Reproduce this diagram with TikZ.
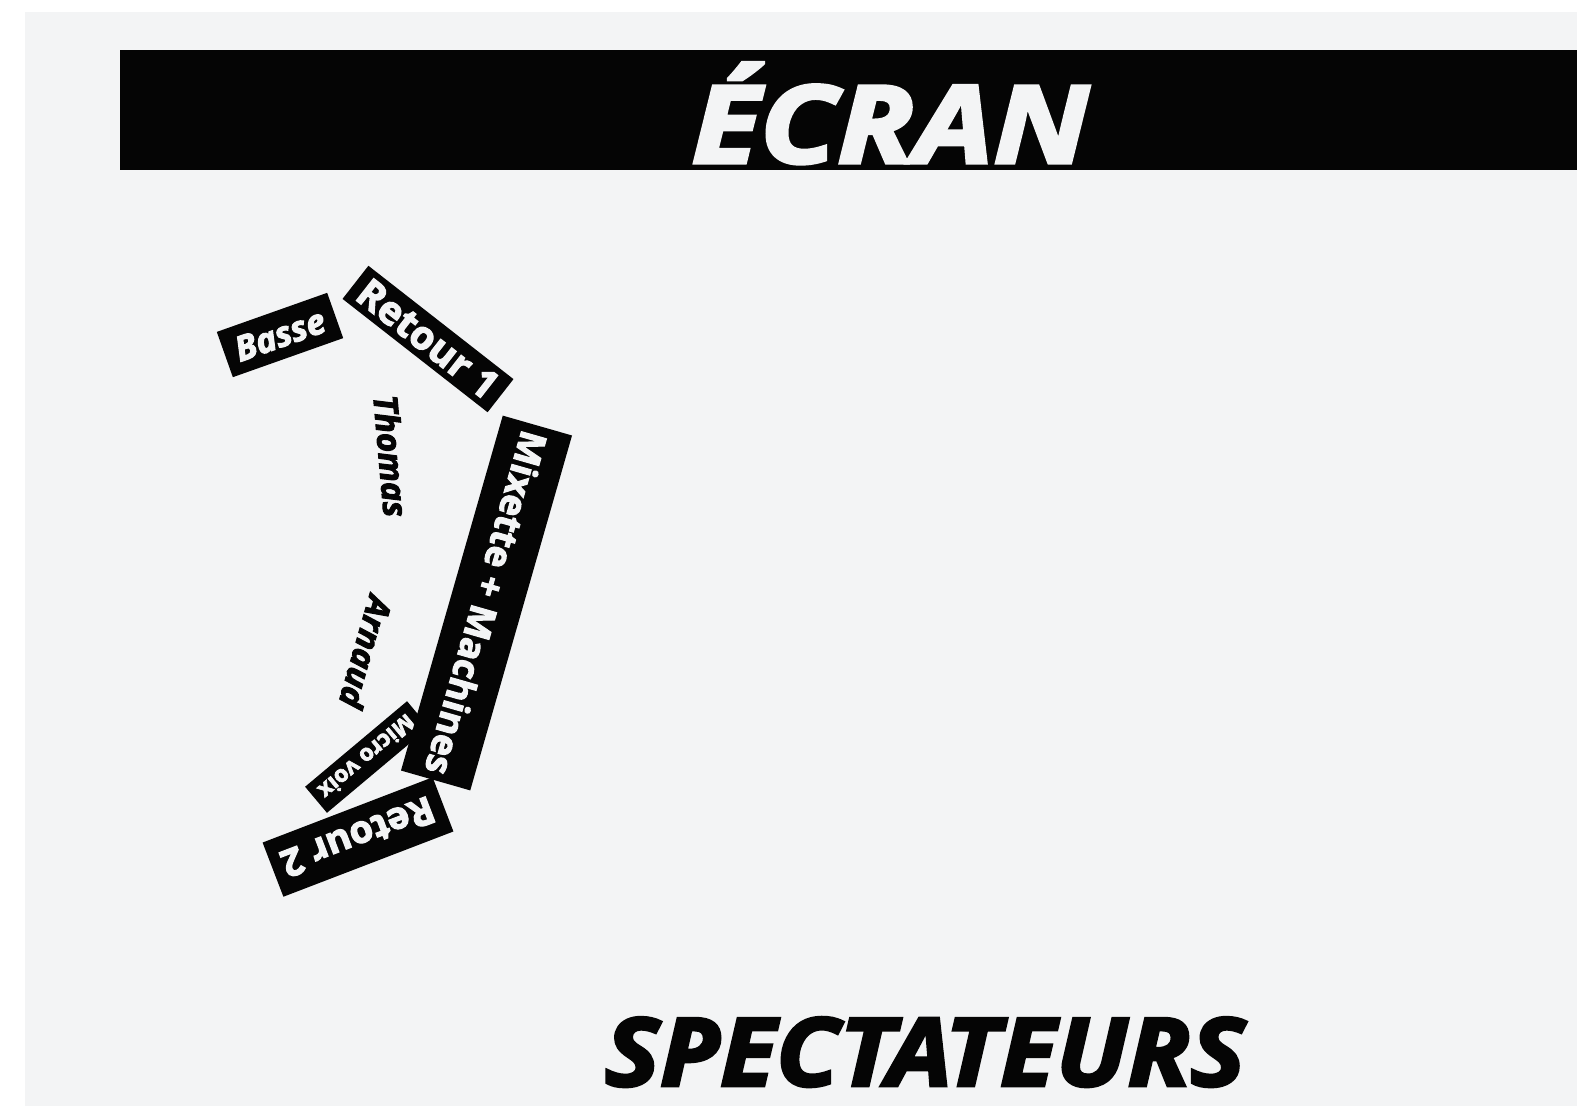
\documentclass[tikz,border=0pt]{standalone}
\usepackage{fontspec}
\setmainfont{Open Sans}[BoldFeatures={FakeBold=3},BoldItalicFeatures={FakeBold=3}]
\definecolor{bggray}{HTML}{F3F4F5}
\definecolor{ink}{HTML}{050505}
\tikzset{
  blackbox/.style={fill=ink, text=bggray, inner sep=0pt, align=center, font=\bfseries},
  plain/.style={text=ink, inner sep=0pt, font=\bfseries\itshape},
}
\begin{document}
\begin{tikzpicture}[x=0.01cm,y=-0.01cm]
\useasboundingbox (0,0) rectangle (1577,1106);
\fill[white] (0,0) rectangle (1577,1106);
\fill[bggray] (25,12) rectangle (1577,1106);
% screen bar
\fill[ink] (120,50) rectangle (1577,170);
\node[anchor=base, text=bggray, inner sep=0pt, font=\fontsize{30.7pt}{32pt}\selectfont\bfseries\itshape] (ecran) at (890,163) {\scalebox{1.17}[1]{ÉCRAN}};
\node[anchor=base, text=ink, inner sep=0pt, font=\fontsize{27pt}{29pt}\selectfont\bfseries\itshape] (spect) at (925,1086) {\scalebox{1.09}[1]{SPECTATEURS}};
% stage items
\node[blackbox, minimum width=1.17cm, minimum height=0.48cm, rotate=19.5, font=\fontsize{9.8pt}{10pt}\selectfont\bfseries\itshape] (basse) at (280,335) {Basse};
\node[blackbox, minimum width=1.84cm, minimum height=0.42cm, rotate=-38, font=\fontsize{11.2pt}{12pt}\selectfont\bfseries] (ret1) at (428,339) {Retour 1};
\node[plain, rotate=-85, font=\fontsize{9.4pt}{10pt}\selectfont\bfseries\itshape] (thomas) at (391,456) {Thomas};
\node[plain, rotate=-106, font=\fontsize{9.4pt}{10pt}\selectfont\bfseries\itshape] (arnaud) at (366,652) {Arnaud};
\node[blackbox, minimum width=1.33cm, minimum height=0.34cm, rotate=220, font=\fontsize{6.5pt}{7pt}\selectfont\bfseries] (micro) at (367,757) {Micro voix};
\node[blackbox, minimum width=1.82cm, minimum height=0.58cm, rotate=201, font=\fontsize{10.8pt}{11pt}\selectfont\bfseries] (ret2) at (358,837) {Retour 2};
\node[blackbox, minimum width=3.69cm, minimum height=0.72cm, rotate=-106, font=\fontsize{10.4pt}{11pt}\selectfont\bfseries] (mix) at (486.5,603) {Mixette + Machines};
\end{tikzpicture}
\end{document}
